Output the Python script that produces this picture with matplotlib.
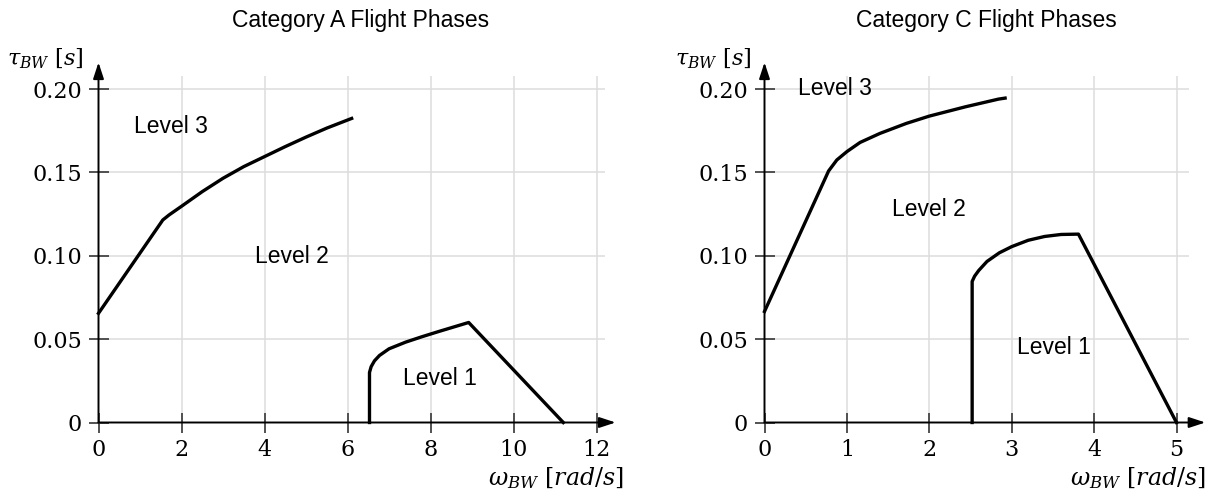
import matplotlib
matplotlib.use("Agg")
import matplotlib.pyplot as plt

# Category A boundaries
a_l3_x = [0.0, 1.55, 1.7, 2.0, 2.5, 3.0, 3.5, 4.0, 4.5, 5.0, 5.5, 6.1]
a_l3_y = [0.0655, 0.1215, 0.1245, 0.1297, 0.1385, 0.1465, 0.1535, 0.1595, 0.1655, 0.1712, 0.1766, 0.1824]
a_l1_x = [6.53, 6.53, 6.57, 6.65, 6.77, 7.0, 7.4, 7.8, 8.2, 8.92, 11.2]
a_l1_y = [0.0, 0.030, 0.0335, 0.037, 0.0402, 0.0442, 0.0482, 0.0515, 0.0546, 0.0600, 0.0]

# Category C boundaries
c_l3_x = [0.0, 0.778, 0.878, 1.0, 1.16, 1.4, 1.72, 2.0, 2.44, 2.84, 2.92]
c_l3_y = [0.0666, 0.1509, 0.1575, 0.1625, 0.168, 0.1734, 0.1794, 0.1838, 0.1894, 0.194, 0.1946]
c_l1_x = [2.52, 2.52, 2.55, 2.6, 2.7, 2.85, 3.0, 3.2, 3.4, 3.6, 3.81, 5.0]
c_l1_y = [0.0, 0.0846, 0.0878, 0.0912, 0.0966, 0.1018, 0.1055, 0.1093, 0.1116, 0.1128, 0.1130, 0.0]

a_xticks = [0, 2, 4, 6, 8, 10, 12]
c_xticks = [0, 1, 2, 3, 4, 5]
yticks = [0, 0.05, 0.10, 0.15, 0.20]
ytick_labels = ["0", "0.05", "0.10", "0.15", "0.20"]

plt.rcParams['mathtext.fontset'] = 'dejavuserif'

W, H = 1217, 493
fig = plt.figure(figsize=(W / 100, H / 100), dpi=100)

YMAX = 0.216
GRID_TOP = 0.208
sans = 'Liberation Sans'


def make_panel(left_px, unit_px, xmax, grid_right, xticks, l3x, l3y, l1x, l1y,
               title, title_x, labels, ylab_right, xlab_right):
    y0_px = 422.5
    yunit = 1667.0
    width = xmax * unit_px
    height = YMAX * yunit
    ax = fig.add_axes([left_px / W, (H - y0_px) / H, width / W, height / H])
    ax.set_xlim(0, xmax)
    ax.set_ylim(0, YMAX)
    for s in ax.spines.values():
        s.set_visible(False)

    # grid
    ax.vlines(xticks[1:], 0, GRID_TOP, color='#dddddd', lw=1.1, zorder=0)
    ax.hlines(yticks[1:], 0, grid_right, color='#dddddd', lw=1.1, zorder=0)

    ax.set_xticks(xticks)
    ax.set_xticklabels([str(t) for t in xticks])
    ax.set_yticks(yticks)
    ax.set_yticklabels(ytick_labels)
    ax.tick_params(direction='inout', length=14, width=1.3, color='#444444',
                   pad=5.0, labelsize=16)
    for lab in ax.get_xticklabels() + ax.get_yticklabels():
        lab.set_family('DejaVu Serif')

    # axes with arrows
    arr = dict(arrowstyle='-|>,head_length=0.7,head_width=0.23', lw=1.4,
               color='black', mutation_scale=14, shrinkA=0, shrinkB=0)
    ax.annotate('', xy=(xmax, 0), xytext=(0, 0), arrowprops=arr, annotation_clip=False)
    ax.annotate('', xy=(0, YMAX), xytext=(0, 0), arrowprops=arr, annotation_clip=False)

    ax.plot(l3x, l3y, color='black', lw=2.4, clip_on=False, solid_joinstyle='round')
    ax.plot(l1x, l1y, color='black', lw=2.4, clip_on=False, solid_joinstyle='round')

    for txt, x, y in labels:
        ax.text(x, y, txt, ha='center', va='center', fontsize=16.5, family=sans)

    fig.text(title_x / W, 1 - 21 / H, title, ha='center', va='center',
             fontsize=16.5, family=sans)
    fig.text(ylab_right / W, 1 - 59 / H, r'$\tau_{BW}\ [s]$', ha='right',
             va='center', fontsize=16)
    fig.text(xlab_right / W, 1 - 478 / H, r'$\omega_{BW}\ [rad/s]$', ha='right',
             va='center', fontsize=17)
    return ax


make_panel(98.5, 41.5, 12.46, 12.2, a_xticks, a_l3_x, a_l3_y, a_l1_x, a_l1_y,
           'Category A Flight Phases', 361,
           [('Level 3', 1.75, 0.1774), ('Level 2', 4.66, 0.0995), ('Level 1', 8.23, 0.0266)],
           83, 624)

make_panel(764.5, 82.4, 5.35, 5.15, c_xticks, c_l3_x, c_l3_y, c_l1_x, c_l1_y,
           'Category C Flight Phases', 986,
           [('Level 3', 0.85, 0.2006), ('Level 2', 1.99, 0.128), ('Level 1', 3.51, 0.045)],
           751, 1206)

fig.savefig('out.png', dpi=100)
